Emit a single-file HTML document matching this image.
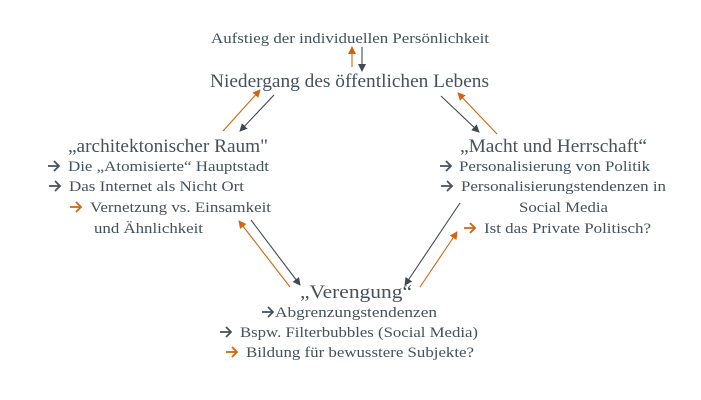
<!DOCTYPE html>
<html><head><meta charset="utf-8"><style>
html,body{margin:0;padding:0;background:#fff;}
svg{display:block;}
text{font-family:"Liberation Serif","DejaVu Serif","Noto Serif CJK SC",serif;}
</style></head><body>
<svg width="701" height="400" viewBox="0 0 701 400" xmlns="http://www.w3.org/2000/svg">
<defs>
<marker id="ad" markerWidth="8" markerHeight="8" refX="7" refY="4" orient="auto" markerUnits="userSpaceOnUse"><path d="M0,0 L8,4 L0,8 z" fill="#3f4a52"/></marker>
<marker id="ao" markerWidth="8" markerHeight="8" refX="7" refY="4" orient="auto" markerUnits="userSpaceOnUse"><path d="M0,0 L8,4 L0,8 z" fill="#d2650f"/></marker>
<g id="bd"><path d="M0,0 H11 M6,-5 L11,0 L6,5" fill="none" stroke="#44525c" stroke-width="1.8"/></g>
<g id="bo"><path d="M0,0 H11 M6,-5 L11,0 L6,5" fill="none" stroke="#d2650f" stroke-width="1.8"/></g>
</defs>
<g stroke-width="1.1">
<line x1="352" y1="67" x2="352" y2="47" stroke="#d2650f" marker-end="url(#ao)"/>
<line x1="362" y1="47" x2="362" y2="71" stroke="#3f4a52" marker-end="url(#ad)"/>
<line x1="223" y1="131" x2="260" y2="90" stroke="#d2650f" marker-end="url(#ao)"/>
<line x1="274" y1="95" x2="240" y2="131" stroke="#3f4a52" marker-end="url(#ad)"/>
<line x1="441" y1="96" x2="479" y2="132" stroke="#3f4a52" marker-end="url(#ad)"/>
<line x1="497" y1="134" x2="458" y2="93" stroke="#d2650f" marker-end="url(#ao)"/>
<line x1="290" y1="287" x2="239" y2="221" stroke="#d2650f" marker-end="url(#ao)"/>
<line x1="251" y1="220" x2="300" y2="285" stroke="#3f4a52" marker-end="url(#ad)"/>
<line x1="460" y1="203" x2="405" y2="285" stroke="#3f4a52" marker-end="url(#ad)"/>
<line x1="420" y1="287" x2="457" y2="232" stroke="#d2650f" marker-end="url(#ao)"/>
</g>
<g fill="#44525c">
<text x="211" y="43" font-size="15" textLength="278" lengthAdjust="spacingAndGlyphs">Aufstieg der individuellen Persönlichkeit</text>
<text x="210" y="87" font-size="19" textLength="279" lengthAdjust="spacingAndGlyphs">Niedergang des öffentlichen Lebens</text>

<text x="68" y="152" font-size="19" textLength="200" lengthAdjust="spacingAndGlyphs">„architektonischer Raum"</text>
<text x="68" y="171" font-size="15" textLength="201" lengthAdjust="spacingAndGlyphs">Die „Atomisierte“ Hauptstadt</text>
<text x="69" y="191" font-size="15" textLength="175" lengthAdjust="spacingAndGlyphs">Das Internet als Nicht Ort</text>
<text x="90" y="212" font-size="15" textLength="181" lengthAdjust="spacingAndGlyphs">Vernetzung vs. Einsamkeit</text>
<text x="94" y="233" font-size="15" textLength="109" lengthAdjust="spacingAndGlyphs">und Ähnlichkeit</text>

<text x="460" y="152" font-size="19" textLength="187" lengthAdjust="spacingAndGlyphs">„Macht und Herrschaft“</text>
<text x="459" y="171" font-size="15" textLength="191" lengthAdjust="spacingAndGlyphs">Personalisierung von Politik</text>
<text x="461" y="191" font-size="15" textLength="205" lengthAdjust="spacingAndGlyphs">Personalisierungstendenzen in</text>
<text x="519" y="212" font-size="15" textLength="89" lengthAdjust="spacingAndGlyphs">Social Media</text>
<text x="484" y="233" font-size="15" textLength="167" lengthAdjust="spacingAndGlyphs">Ist das Private Politisch?</text>

<text x="300" y="298" font-size="19" textLength="112" lengthAdjust="spacingAndGlyphs">„Verengung“</text>
<text x="275" y="317" font-size="15" textLength="162" lengthAdjust="spacingAndGlyphs">Abgrenzungstendenzen</text>
<text x="240" y="337" font-size="15" textLength="238" lengthAdjust="spacingAndGlyphs">Bspw. Filterbubbles (Social Media)</text>
<text x="246" y="357" font-size="15" textLength="228" lengthAdjust="spacingAndGlyphs">Bildung für bewusstere Subjekte?</text>
</g>
<use href="#bd" x="48" y="166"/>
<use href="#bd" x="49" y="186"/>
<use href="#bo" x="70" y="207"/>
<use href="#bd" x="440" y="166"/>
<use href="#bd" x="441" y="186"/>
<use href="#bo" x="464" y="228"/>
<use href="#bd" x="262" y="312"/>
<use href="#bd" x="220" y="332"/>
<use href="#bo" x="226" y="352"/>
</svg>
</body></html>
